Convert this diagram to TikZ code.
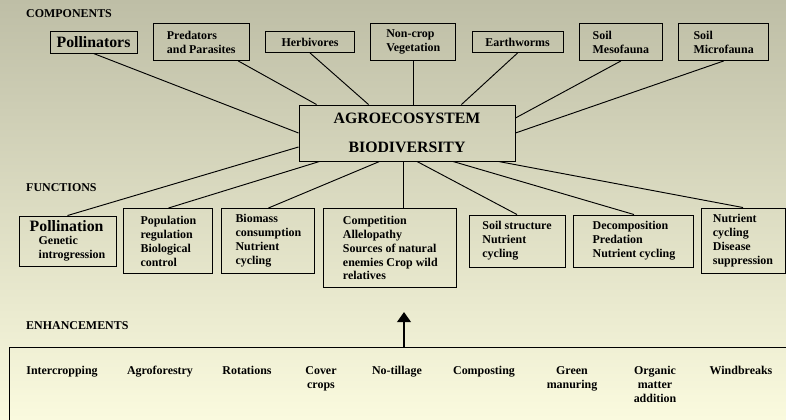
\documentclass[tikz,border=0pt]{standalone}
\usepackage{fontspec}
\setmainfont{Liberation Serif}
\usepackage{tikz}
\usetikzlibrary{positioning,arrows.meta}
\definecolor{bgtop}{RGB}{190,190,166}
\definecolor{bgbot}{RGB}{250,250,222}

\begin{document}
\begin{tikzpicture}[x=0.03cm,y=-0.03cm,
  font=\bfseries\fontsize{10.2}{11.9}\selectfont,
  box/.style={draw,line width=0.8pt,inner sep=2pt},
  bigfont/.style={font=\bfseries\fontsize{13.5}{16}\selectfont},
  head/.style={anchor=west,inner sep=0pt},
  item/.style={anchor=north,align=center,inner sep=0pt},
  every edge/.style={draw,line width=0.8pt},
  uparrow/.style={line width=2.5pt,-{Triangle[width=0.4cm,length=0.3cm]}}]

\useasboundingbox (0,0) rectangle (786,419);
\clip (0,0) rectangle (786,419);
\shade[top color=bgtop,bottom color=bgbot] (0,0) rectangle (786,419);

%components
\node[head] (comphead) at (26,14) {COMPONENTS};
\node[box,bigfont,minimum width=2.61cm,minimum height=0.66cm] (poll) at (93.5,42) {Pollinators};
\node[box,align=left,minimum width=2.88cm,minimum height=1.11cm,right=0.46cm of poll] (pred) {Predators\\ and Parasites};
\node[box,minimum width=2.67cm,minimum height=0.63cm,right=0.46cm of pred] (herb) {Herbivores};
\node[box,align=left,minimum width=2.55cm,minimum height=1.11cm,right=0.46cm of herb] (noncrop) {Non-crop\\Vegetation};
\node[box,minimum width=2.73cm,minimum height=0.63cm,right=0.46cm of noncrop] (earth) {Earthworms};
\node[box,align=left,minimum width=2.49cm,minimum height=1.11cm,right=0.46cm of earth] (meso) {Soil\\Mesofauna};
\node[box,align=left,minimum width=2.70cm,minimum height=1.11cm,right=0.46cm of meso] (micro) {Soil\\Microfauna};

\node[box,bigfont,align=center,minimum width=6.48cm,minimum height=1.68cm] (bio) at (407,133) {AGROECOSYSTEM\\[0.3cm]BIODIVERSITY};

\path (poll.south) edge (bio.west);
\path ([xshift=1.11cm]pred.south) edge ([xshift=0.54cm]bio.north west);
\path (herb.south) edge ([xshift=2.1cm]bio.north west);
\path (noncrop.south) edge (noncrop.south |- bio.north);
\path (earth.south) edge ([xshift=-1.62cm]bio.north east);
\path (meso.south) edge ([yshift=0.45cm]bio.east);
\path (micro.south) edge (bio.east);

%functions
\node[head] (funchead) at (26,188) {FUNCTIONS};
\node[box,align=left,minimum width=2.91cm,minimum height=1.5cm] (pollfn) at (67.5,241) {{\fontsize{13.5}{16}\selectfont Pollination}\\[-0.5pt]\hspace*{0.27cm}Genetic\\\hspace*{0.27cm}introgression};
\node[box,align=left,minimum width=2.67cm,minimum height=1.95cm,right=0.21cm of pollfn] (popreg) {Population\\regulation\\Biological\\control};
\node[box,align=left,minimum width=2.79cm,minimum height=1.95cm,right=0.24cm of popreg] (biomass) {Biomass\\consumption\\Nutrient\\cycling};
\node[box,align=left,minimum width=3.99cm,minimum height=2.37cm,right=0.24cm of biomass.north east,anchor=north west] (comp) {Competition\\Allelopathy\\Sources of natural\\enemies Crop wild\\relatives};
\node[box,align=left,minimum width=2.88cm,minimum height=1.56cm] (soil) at (517,241) {Soil structure\\Nutrient\\cycling};
\node[box,align=left,minimum width=3.6cm,minimum height=1.56cm,right=0.24cm of soil] (decomp) {Decomposition\\Predation\\Nutrient cycling};
\node[box,align=left,minimum width=2.52cm,minimum height=1.95cm] (nutr) at (743,240.5) {Nutrient\\cycling\\Disease\\suppression};

\coordinate (biodown) at ([xshift=-0.12cm]bio.south);
\path ([yshift=-0.42cm]bio.west) edge (pollfn.north);
\path ([xshift=0.63cm]bio.south west) edge (popreg.north);
\path ([xshift=2.43cm]bio.south west) edge (biomass.north);
\path (biodown) edge (biodown |- comp.north);
\path ([xshift=0.3cm]bio.south) edge (soil.north);
\path ([xshift=1.38cm]bio.south) edge (decomp.north);
\path ([xshift=-0.51cm]bio.south east) edge (nutr.north);

%enhancements
\node[head] (enhhead) at (26,326) {ENHANCEMENTS};
\node[draw,line width=1.2pt,anchor=north west,minimum width=25cm,minimum height=3cm] (enh) at (9,347) {};
\coordinate (tip) at (404,312);
\draw[uparrow] (enh.north -| tip) -- (tip);

\node[item] (interc) at (62,366) {Intercropping};
\node[item] (agrof) at (160,366) {Agroforestry};
\node[item] (rot) at (247,366) {Rotations};
\node[item] (cover) at (321,366) {Cover\\crops};
\node[item] (notill) at (397,366) {No-tillage};
\node[item] (compost) at (484,366) {Composting};
\node[item] (green) at (572,366) {Green\\manuring};
\node[item] (organic) at (655,366) {Organic\\matter\\addition};
\node[item] (windb) at (741,366) {Windbreaks};
\end{tikzpicture}
\end{document}
